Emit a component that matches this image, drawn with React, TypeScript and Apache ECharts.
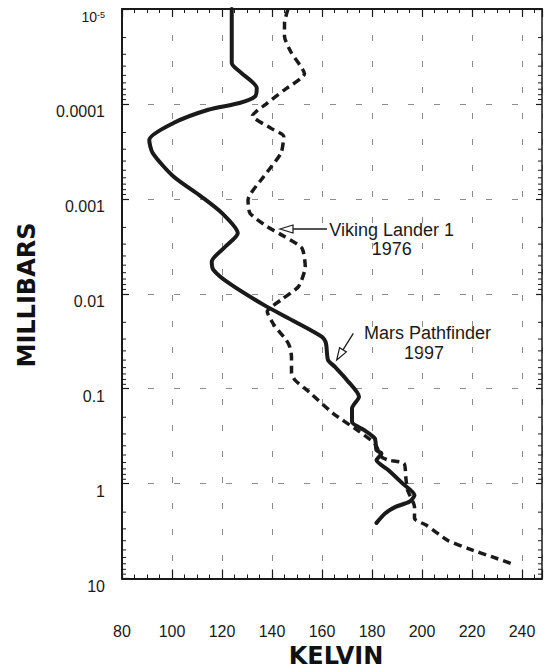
import React, { useEffect, useRef } from 'react';
import * as echarts from 'echarts';

// Mars Pathfinder 1997 (solid): temperature (K) vs pressure (mbar)
const pathfinderK = [
  123.9, 123.9, 127.0, 133.9, 133.2, 127.0, 114.5, 100.6, 90.9, 92.3,
  100.6, 111.7, 120.0, 126.3, 121.4, 115.9, 116.6, 122.8, 136.7, 149.2,
  160.0, 161.6, 162.4, 165.1, 170.0, 174.8, 172.0, 172.0, 176.9, 181.1,
  181.8, 183.8, 181.8, 186.6, 192.2, 197.0, 194.9, 189.4, 185.2, 181.8,
];
const pathfinderP = [
  1e-5, 3.71e-5, 4.55e-5, 6.81e-5, 8.36e-5, 9.79e-5, 1.153e-4, 1.59e-4, 2.4e-4, 3.3e-4,
  5.82e-4, 9.46e-4, 1.416e-3, 2.3e-3, 3.18e-3, 4.59e-3, 5.61e-3, 7.74e-3, 0.0131, 0.0197,
  0.0285, 0.0335, 0.0499, 0.0587, 0.0813, 0.1216, 0.1614, 0.2234, 0.2735, 0.334,
  0.445, 0.481, 0.566, 0.723, 0.995, 1.324, 1.556, 1.758, 2.065, 2.594,
];

// Viking Lander 1 1976 (dashed)
const vikingK = [
  146.4, 145.0, 145.0, 147.8, 153.0, 145.0, 138.1, 132.2, 139.5, 144.7,
  143.6, 136.7, 130.4, 131.2, 138.1, 145.0, 152.0, 153.3, 150.6, 143.6,
  138.1, 140.8, 145.7, 147.1, 147.8, 147.8, 149.2, 154.7, 164.4, 174.1,
  181.1, 183.8, 186.6, 192.8, 193.5, 194.2, 197.0, 197.0, 201.8, 210.2,
  218.5, 228.2, 235.8,
];
const vikingP = [
  1e-5, 1.406e-5, 1.945e-5, 2.91e-5, 4.81e-5, 7.1e-5, 9.79e-5, 1.334e-4, 1.8e-4, 2.2e-4,
  3.3e-4, 5.82e-4, 1.026e-3, 1.416e-3, 1.963e-3, 2.5e-3, 3.31e-3, 5.18e-3, 8.41e-3, 0.01161,
  0.01545, 0.02133, 0.0307, 0.0361, 0.046, 0.0689, 0.0813, 0.1076, 0.182, 0.2735,
  0.378, 0.522, 0.566, 0.612, 0.849, 1.172, 1.758, 2.333, 2.748, 3.95,
  4.84, 5.93, 6.97,
];

const yTickLabels = ['{m|10}{e|-5}', '0.0001', '0.001', '0.01', '0.1', '1', '10'];
const minorMultipliers = [2, 3, 4, 5, 6, 7, 8, 9];
const decades = [1e-5, 1e-4, 1e-3, 1e-2, 1e-1, 1];

const X_MIN = 80;
const X_MAX = 248;
const FONT = '"Liberation Sans", Arial, Helvetica, sans-serif';
const INK = '#1a1a1a';

export default function App() {
  const ref = useRef<HTMLDivElement>(null);

  useEffect(() => {
    document.body.style.margin = '0';
    const chart = echarts.init(ref.current!, null, { renderer: 'svg' });

    const pathfinder = pathfinderK.map((k, i) => [k, pathfinderP[i]]);
    const viking = vikingK.map((k, i) => [k, vikingP[i]]);
    const minorTicks: number[][] = [];
    decades.forEach((d) => minorMultipliers.forEach((m) => minorTicks.push([X_MIN, m * d])));

    const gridLine = { show: true, lineStyle: { color: '#8c8c8c', width: 1, type: [6, 20] as number[] } };

    const baseY = {
      type: 'log' as const,
      logBase: 10,
      min: 1e-5,
      max: 10,
      inverse: true,
      splitNumber: 6,
    };

    const option: any = {
      animation: false,
      backgroundColor: '#ffffff',
      grid: { left: 122, right: 2, top: 9, bottom: 92.5, containLabel: false },
      xAxis: [
        {
          type: 'value',
          min: X_MIN,
          max: X_MAX,
          interval: 20,
          position: 'bottom',
          axisLine: { show: true, onZero: false, lineStyle: { color: INK, width: 2 } },
          axisTick: { show: true, inside: true, length: 9, lineStyle: { color: INK, width: 1.2 } },
          minorTick: { show: true, splitNumber: 4, length: 4, lineStyle: { color: INK, width: 1 } },
          splitLine: gridLine,
          axisLabel: {
            show: true,
            margin: 45,
            fontSize: 16,
            fontFamily: FONT,
            color: INK,
            showMaxLabel: false,
            formatter: (v: number) => (v % 20 === 0 && v <= 240 ? String(v) : ''),
          },
        },
        {
          type: 'value',
          min: X_MIN,
          max: X_MAX,
          interval: 20,
          position: 'top',
          axisLine: { show: true, onZero: false, lineStyle: { color: INK, width: 2 } },
          axisTick: { show: true, inside: true, length: 8, lineStyle: { color: INK, width: 1.2 } },
          minorTick: { show: true, splitNumber: 4, length: 4, lineStyle: { color: INK, width: 1 } },
          splitLine: { show: false },
          axisLabel: { show: false },
        },
      ],
      yAxis: [
        {
          ...baseY,
          position: 'left',
          axisLine: { show: true, onZero: false, lineStyle: { color: INK, width: 2 } },
          axisTick: { show: true, inside: true, length: 7, lineStyle: { color: INK, width: 1.2 } },
          splitLine: gridLine,
          axisLabel: {
            show: true,
            margin: 17,
            fontSize: 16,
            fontFamily: FONT,
            color: INK,
            padding: [16, 0, 0, 0],
            formatter: (v: number) => yTickLabels[Math.round(Math.log10(v)) + 5] ?? '',
            rich: {
              m: { fontSize: 14, fontFamily: FONT, color: INK },
              e: { fontSize: 9, fontFamily: FONT, color: INK, verticalAlign: 'top' },
            },
          },
        },
        {
          ...baseY,
          position: 'right',
          axisLine: { show: true, onZero: false, lineStyle: { color: INK, width: 1.5 } },
          axisTick: { show: true, inside: true, length: 6, lineStyle: { color: INK, width: 1.2 } },
          splitLine: { show: false },
          axisLabel: { show: false },
        },
      ],
      series: [
        {
          name: 'Viking Lander 1 1976',
          type: 'line',
          data: viking,
          xAxisIndex: 0,
          yAxisIndex: 0,
          showSymbol: false,
          smooth: 0.2,
          lineStyle: { color: INK, width: 3.5, type: [8, 5], cap: 'butt' },
          z: 3,
        },
        {
          name: 'Mars Pathfinder 1997',
          type: 'line',
          data: pathfinder,
          xAxisIndex: 0,
          yAxisIndex: 0,
          showSymbol: false,
          smooth: 0.25,
          lineStyle: { color: INK, width: 4, cap: 'round', join: 'round' },
          z: 4,
        },
        {
          type: 'custom',
          xAxisIndex: 0,
          yAxisIndex: 0,
          silent: true,
          data: minorTicks,
          renderItem: (_params: any, api: any) => {
            const p = api.value(1);
            const l = api.coord([X_MIN, p]);
            const r = api.coord([X_MAX, p]);
            return {
              type: 'group',
              children: [
                { type: 'line', shape: { x1: l[0], y1: l[1], x2: l[0] + 4, y2: l[1] }, style: { stroke: INK, lineWidth: 1 } },
                { type: 'line', shape: { x1: r[0], y1: r[1], x2: r[0] - 4, y2: r[1] }, style: { stroke: INK, lineWidth: 1 } },
              ],
            };
          },
          z: 5,
        },
      ],
      graphic: [
        {
          type: 'text',
          x: 26.5,
          y: 295,
          rotation: Math.PI / 2,
          style: {
            text: 'MILLIBARS',
            font: 'bold 24px "DejaVu Sans", sans-serif',
            fill: '#111',
            align: 'center',
            verticalAlign: 'middle',
          },
        },
        {
          type: 'text',
          x: 336,
          y: 656,
          style: {
            text: 'KELVIN',
            font: 'bold 24px "DejaVu Sans", sans-serif',
            fill: '#111',
            align: 'center',
            verticalAlign: 'middle',
          },
        },
        {
          type: 'text',
          x: 391.7,
          y: 230,
          style: { text: 'Viking Lander 1', font: `18px ${FONT}`, fill: INK, align: 'center', verticalAlign: 'middle' },
        },
        {
          type: 'text',
          x: 391.7,
          y: 248.5,
          style: { text: '1976', font: `18px ${FONT}`, fill: INK, align: 'center', verticalAlign: 'middle' },
        },
        {
          type: 'text',
          x: 427.5,
          y: 333,
          style: { text: 'Mars Pathfinder', font: `18px ${FONT}`, fill: INK, align: 'center', verticalAlign: 'middle' },
        },
        {
          type: 'text',
          x: 424,
          y: 353,
          style: { text: '1997', font: `18px ${FONT}`, fill: INK, align: 'center', verticalAlign: 'middle' },
        },
        {
          type: 'line',
          shape: { x1: 293, y1: 229, x2: 327, y2: 229 },
          style: { stroke: INK, lineWidth: 1.3 },
        },
        {
          type: 'polygon',
          shape: { points: [[280, 229], [293, 225], [293, 233]] },
          style: { fill: '#fff', stroke: INK, lineWidth: 1.2 },
        },
        {
          type: 'line',
          shape: { x1: 343, y1: 349.8, x2: 353.3, y2: 333.3 },
          style: { stroke: INK, lineWidth: 1.3 },
        },
        {
          type: 'polygon',
          shape: { points: [[336.7, 360], [346.4, 351.9], [339.6, 347.7]] },
          style: { fill: '#fff', stroke: INK, lineWidth: 1.2 },
        },
      ],
    };

    chart.setOption(option);
    return () => chart.dispose();
  }, []);

  return <div ref={ref} style={{ width: 544, height: 671 }} />;
}
